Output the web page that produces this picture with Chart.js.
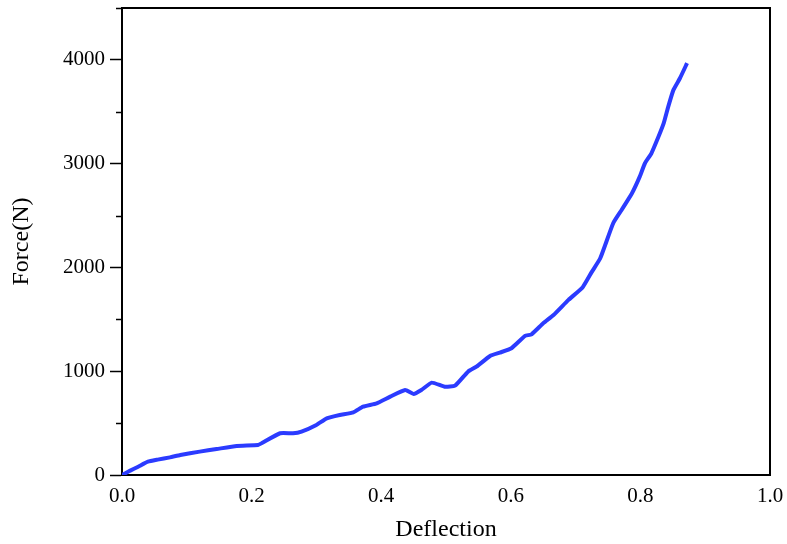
<!DOCTYPE html>
<html>
<head>
<meta charset="utf-8">
<script src="https://cdn.jsdelivr.net/npm/chart.js@4/dist/chart.umd.min.js"></script>
<style>
  html, body { margin: 0; padding: 0; background: #fff; }
  #wrap { width: 787px; height: 544px; }
</style>
</head>
<body>
<div id="wrap"><canvas id="forceChart"></canvas></div>
<script>
// values
var deflection = [0, 0.012, 0.025, 0.04, 0.055, 0.074, 0.09, 0.12, 0.146, 0.177, 0.21, 0.216,
    0.244, 0.264, 0.277, 0.30, 0.316, 0.336, 0.357, 0.372, 0.393, 0.414, 0.437, 0.450, 0.462,
    0.478, 0.498, 0.514, 0.534, 0.547, 0.568, 0.583, 0.601, 0.622, 0.632, 0.650, 0.666, 0.689,
    0.711, 0.725, 0.738, 0.758, 0.771, 0.787, 0.799, 0.807, 0.817, 0.828, 0.836, 0.843, 0.851,
    0.861, 0.872];
var force = [0, 40, 80, 128, 148, 170, 193, 225, 250, 280, 289, 308,
    402, 402, 418, 482, 546, 578, 604, 658, 691, 755, 819, 781, 819,
    890, 851, 861, 996, 1044, 1147, 1179, 1221, 1340, 1356, 1462, 1542, 1687,
    1810, 1957, 2088, 2426, 2554, 2715, 2875, 3004, 3100, 3261, 3390, 3550, 3711,
    3823, 3968];
var xTicks = [0, 0.2, 0.4, 0.6, 0.8, 1.0];
var yTicks = [0, 1000, 2000, 3000, 4000];

var serif = "'Liberation Serif', 'Times New Roman', serif";

// top/right frame lines and minor ticks on the y axis
var framePlugin = {
    id: 'frame',
    afterDraw: function (chart) {
        var ctx = chart.ctx, a = chart.chartArea, y = chart.scales.y;
        ctx.save();
        ctx.strokeStyle = '#000';
        ctx.lineWidth = 2;
        ctx.beginPath();
        ctx.moveTo(a.left, a.top);
        ctx.lineTo(a.right, a.top);
        ctx.lineTo(a.right, a.bottom);
        ctx.stroke();
        ctx.lineWidth = 1.5;
        for (var v = 500; v <= 4500; v += 1000) {
            var py = Math.round(y.getPixelForValue(v)) + 0.5;
            ctx.beginPath();
            ctx.moveTo(a.left - 6, py);
            ctx.lineTo(a.left, py);
            ctx.stroke();
        }
        ctx.restore();
    }
};

var points = deflection.map(function (d, i) { return { x: d, y: force[i] }; });

new Chart(document.getElementById('forceChart'), {
    type: 'line',
    data: {
        datasets: [{
            data: points,
            borderColor: '#2b3bff',
            borderWidth: 4,
            pointRadius: 0,
            tension: 0.15,
            fill: false
        }]
    },
    options: {
        responsive: true,
        maintainAspectRatio: false,
        animation: false,
        layout: { padding: { top: 8, right: 17, left: 0, bottom: 0 } },
        plugins: { legend: { display: false }, tooltip: { enabled: false } },
        scales: {
            x: {
                type: 'linear',
                min: 0,
                max: 1,
                afterBuildTicks: function (s) { s.ticks = xTicks.map(function (v) { return { value: v }; }); },
                afterFit: function (s) { s.height = 69; s.paddingLeft = 0; s.paddingRight = 0; },
                grid: { display: true, drawOnChartArea: false, drawTicks: false },
                border: { display: true, color: '#000', width: 2 },
                ticks: {
                    color: '#000',
                    padding: 9,
                    font: { family: serif, size: 21 },
                    callback: function (v) { return v.toFixed(1); }
                },
                title: {
                    display: true,
                    text: 'Deflection',
                    color: '#000',
                    font: { family: serif, size: 24 },
                    padding: { top: 0, bottom: 0 }
                }
            },
            y: {
                min: 0,
                max: 4500,
                afterBuildTicks: function (s) { s.ticks = yTicks.map(function (v) { return { value: v }; }); },
                afterFit: function (s) { s.width = 122; s.paddingTop = 0; s.paddingBottom = 0; },
                grid: { display: true, drawOnChartArea: false, drawTicks: true, tickLength: 12, tickColor: '#000', tickWidth: 1.5 },
                border: { display: true, color: '#000', width: 2 },
                ticks: {
                    color: '#000',
                    padding: 5,
                    font: { family: serif, size: 21 },
                    callback: function (v) { return String(v); }
                },
                title: {
                    display: true,
                    text: 'Force(N)',
                    color: '#000',
                    font: { family: serif, size: 24 },
                    padding: { top: 7, bottom: 0 }
                }
            }
        }
    },
    plugins: [framePlugin]
});
</script>
</body>
</html>
